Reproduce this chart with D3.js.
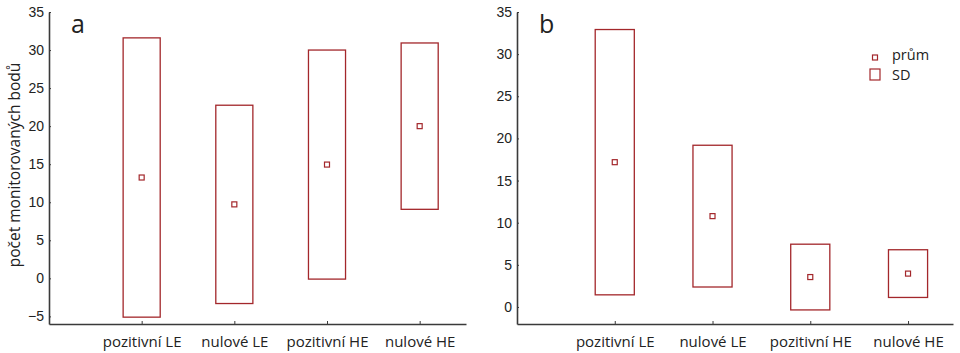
<!DOCTYPE html>
<html>
<head>
<meta charset="utf-8">
<script src="https://cdn.jsdelivr.net/npm/d3@7"></script>
<style>
  html, body { margin: 0; padding: 0; background: #fff; }
  svg { display: block; }
  .tick-label { font-family: "Liberation Sans", Arial, sans-serif; font-size: 14px; fill: #222; }
  .cat-label { font-family: "Open Sans", "Noto Sans", sans-serif; font-size: 15px; fill: #222; }
</style>
</head>
<body>
<svg id="chart" width="960" height="353"></svg>
<script>
// Categories shared by both panels
const categories = ["pozitivní LE", "nulové LE", "pozitivní HE", "nulové HE"];

// Panel a: mean and standard deviation per category
const meansA = [13.25, 9.72, 14.95, 20.0];
const sdA = [18.35, 13.03, 15.05, 10.93];

// Panel b: mean and standard deviation per category
const meansB = [17.18, 10.78, 3.55, 3.96];
const sdB = [15.74, 8.41, 3.9, 2.83];

// Y tick values
const ticksA = [-5, 0, 5, 10, 15, 20, 25, 30, 35];
const ticksB = [0, 5, 10, 15, 20, 25, 30, 35];

const legendLabels = ["prům", "SD"];
const yTitle = "počet monitorovaných bodů";

const red = "#a3272b";
const axisColor = "#3a3a3a";
const svg = d3.select("#chart");

function panel(opts) {
  const g = svg.append("g");
  const x = d3.scaleLinear().domain([0, opts.xMax]).range([opts.left, opts.right]);
  const y = d3.scaleLinear().domain(opts.yDomain).range([opts.bottom, opts.top]);

  // Y axis
  const yAxis = d3.axisLeft(y).tickValues(opts.yTicks).tickSizeInner(-2).tickSizeOuter(0).tickPadding(5);
  const ya = g.append("g").attr("transform", `translate(${opts.left},0)`).call(yAxis);
  ya.select(".domain").attr("stroke", axisColor).attr("stroke-width", 1.6);
  ya.selectAll(".tick line").attr("stroke", axisColor);
  ya.selectAll(".tick text").attr("class", "tick-label").attr("fill", null);

  // X axis
  const xAxis = d3.axisBottom(x).tickValues([1, 2, 3, 4])
    .tickFormat(d => categories[d - 1]).tickSizeInner(-3).tickSizeOuter(0).tickPadding(12);
  const xa = g.append("g").attr("transform", `translate(0,${opts.bottom})`).call(xAxis);
  xa.select(".domain").attr("stroke", axisColor).attr("stroke-width", 1.6);
  xa.selectAll(".tick line").attr("stroke", axisColor);
  xa.selectAll(".tick text").attr("class", "cat-label").attr("fill", null);

  // SD boxes
  const half = 0.2;
  g.selectAll("rect.sd").data(opts.means).enter().append("rect")
    .attr("class", "sd")
    .attr("x", (d, i) => x(i + 1 - half))
    .attr("width", (d, i) => x(i + 1 + half) - x(i + 1 - half))
    .attr("y", (d, i) => y(d + opts.sd[i]))
    .attr("height", (d, i) => y(d - opts.sd[i]) - y(d + opts.sd[i]))
    .attr("fill", "none").attr("stroke", red).attr("stroke-width", 1.3);

  // Mean markers
  g.selectAll("rect.mean").data(opts.means).enter().append("rect")
    .attr("class", "mean")
    .attr("x", (d, i) => x(i + 1) - 2.5)
    .attr("y", d => y(d) - 2.5)
    .attr("width", 5).attr("height", 5)
    .attr("fill", "#fff").attr("stroke", red).attr("stroke-width", 1.2);

  // Panel letter
  g.append("text").attr("x", opts.left + 22).attr("y", 33)
    .attr("font-family", "Open Sans, Noto Sans, sans-serif").attr("font-size", 25)
    .attr("fill", "#222").text(opts.letter);
  return g;
}

panel({ left: 49, right: 466, top: 12, bottom: 324, xMax: 4.5, yDomain: [-6, 35],
        yTicks: ticksA, means: meansA, sd: sdA, letter: "a" });
panel({ left: 517, right: 953, top: 12, bottom: 324, xMax: 4.46, yDomain: [-2.02, 35],
        yTicks: ticksB, means: meansB, sd: sdB, letter: "b" });

// Y axis title
svg.append("text")
  .attr("transform", "translate(20,165) rotate(-90)")
  .attr("text-anchor", "middle")
  .attr("font-family", "Open Sans, Noto Sans, sans-serif").attr("font-size", 15.5)
  .attr("fill", "#222").text(yTitle);

// Legend
const lg = svg.append("g").attr("transform", "translate(875,0)");
lg.append("rect").attr("x", -2.5).attr("y", 55).attr("width", 5).attr("height", 5)
  .attr("fill", "#fff").attr("stroke", red).attr("stroke-width", 1.2);
lg.append("rect").attr("x", -5).attr("y", 69).attr("width", 10).attr("height", 11)
  .attr("fill", "#fff").attr("stroke", red).attr("stroke-width", 1.2);
lg.selectAll("text.leg").data(legendLabels).enter().append("text")
  .attr("class", "leg").attr("x", 17).attr("y", (d, i) => 60 + i * 20)
  .attr("font-family", "Open Sans, Noto Sans, sans-serif").attr("font-size", 14.5)
  .attr("fill", "#222").text(d => d);
</script>
</body>
</html>
